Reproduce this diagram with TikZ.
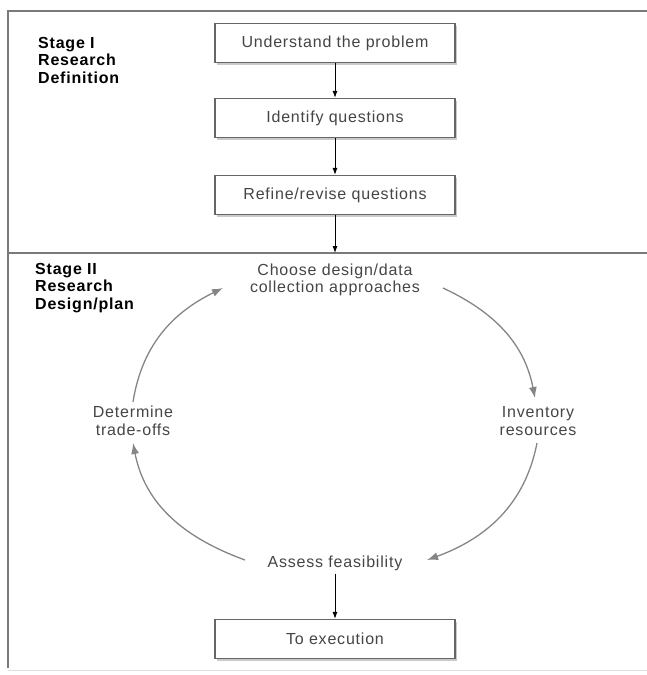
\documentclass[tikz,border=0pt]{standalone}
\usepackage{fontspec}
\setmainfont{Liberation Sans}[LetterSpace=5]
\usetikzlibrary{shapes,arrows.meta,shadows}
\definecolor{boxline}{HTML}{666666}
\definecolor{cycline}{HTML}{858585}
\definecolor{cyctext}{HTML}{454545}
\definecolor{frameline}{HTML}{7A7A7A}
\newcommand{\labfont}{\fontsize{16}{17.5}\selectfont}
\tikzstyle{ptr}      = [draw, -{Latex[length=7pt, width=5pt]}, line width=0.9pt]
\tikzstyle{cyc}      = [draw=cycline, -{Latex[length=11pt, width=8pt]}, line width=1.3pt]
\tikzstyle{stepbox}  = [rectangle, draw=boxline, line width=1.2pt, fill=white, minimum width=240pt, minimum height=39pt, text=cyctext, font=\labfont, drop shadow={shadow xshift=2pt, shadow yshift=-2pt, fill=black!35, opacity=0.6}]
\tikzstyle{stage}    = [align=left, inner sep=0pt, anchor=west, font=\labfont\bfseries]
\tikzstyle{loopnode} = [align=center, inner sep=0pt, text=cyctext, font=\labfont]

\begin{document}
\begin{tikzpicture}[x=1pt, y=1pt]

    \useasboundingbox (0,0) rectangle (647,-675);

    % frame and stage divider
    \draw[frameline, line width=1.5pt] (647,-11) -- (8,-11) -- (8,-668);
    \draw[frameline, line width=1.5pt] (8,-253) -- (647,-253);
    \draw[black!12, line width=1pt]    (8,-670) -- (647,-670);

    % stage I
    \node[stage] (stageI) at (38,-60) {Stage I\\Research\\Definition};
    \node[stepbox] (und) at (335,-43) {Understand the problem};
    \node[stepbox, below of=und, node distance=75pt]  (iden) {Identify questions};
    \node[stepbox, below of=iden, node distance=77pt] (refi) {Refine/revise questions};
    \coordinate (split) at (335,-253);

    % stage II
    \node[stage] (stageII) at (35,-288) {Stage II\\Research\\Design/plan};
    \node[loopnode] (choose) at (335,-280) {Choose design/data\\collection approaches};
    \node[loopnode] (invent) at (538,-421) {Inventory\\resources};
    \node[loopnode, inner sep=3pt] (assess) at (335,-563) {Assess feasibility};
    \node[loopnode] (determ) at (133,-421) {Determine\\trade-offs};
    \node[stepbox] (exec) at (335,-639) {To execution};

    \path[ptr] (und)    -- (iden);
    \path[ptr] (iden)   -- (refi);
    \path[ptr] (refi)   -- (split);
    \path[ptr] (assess) -- (exec);

    \draw[cyc] ([shift={(108,-8)}]choose.center) to[out=-25, in=101] ([shift={(-3,23)}]invent.center);
    \draw[cyc] ([shift={(-1,-22)}]invent.center) to[out=-101, in=20] ([shift={(92,3)}]assess.center);
    \draw[cyc] ([shift={(-90,3)}]assess.center)  to[out=160, in=-79] ([shift={(0,-22)}]determ.center);
    \draw[cyc] ([shift={(0,19)}]determ.center)   to[out=81, in=206]  ([shift={(-112,-8)}]choose.center);

\end{tikzpicture}
\end{document}
